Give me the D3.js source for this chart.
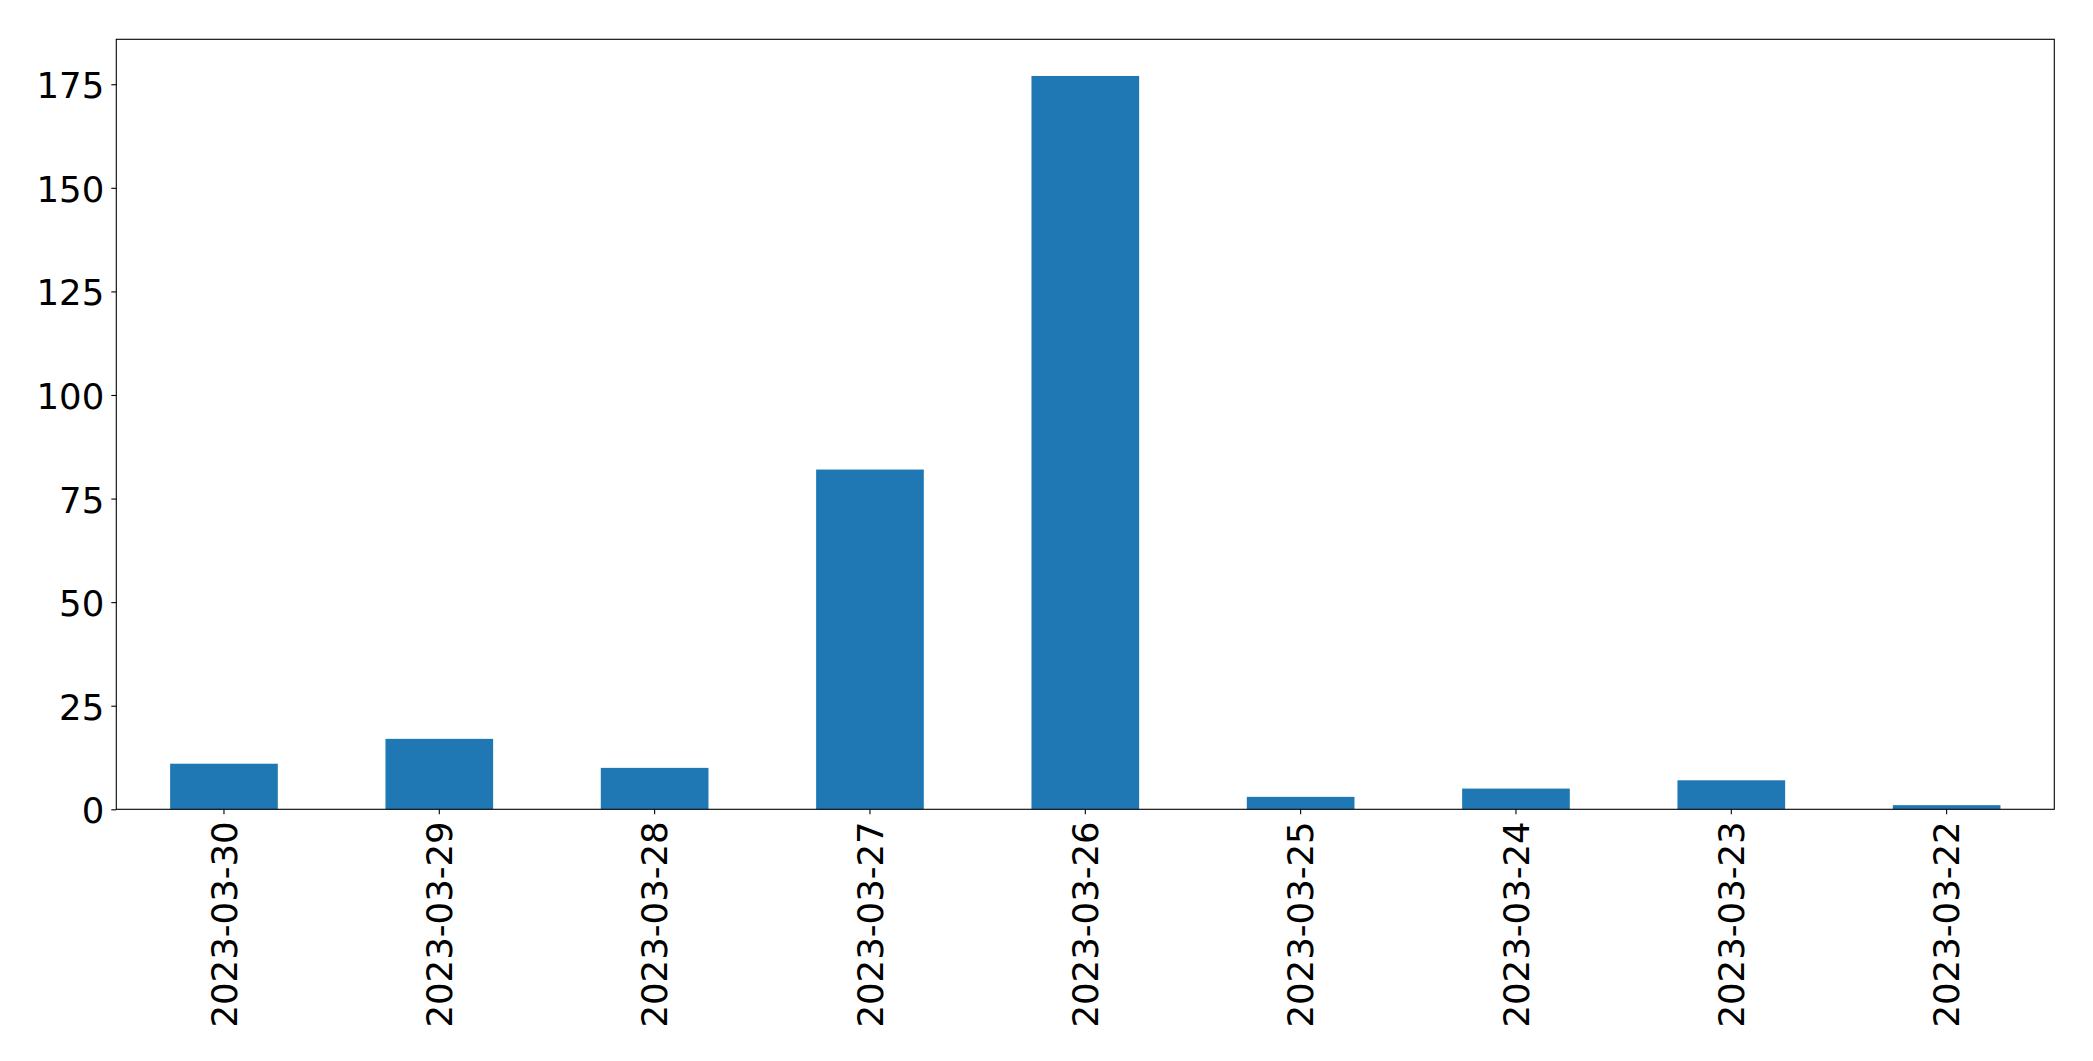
<!DOCTYPE html>
<html>
<head>
<meta charset="utf-8">
<script src="https://cdn.jsdelivr.net/npm/d3@7"></script>
<style>
  html, body { margin: 0; padding: 0; background: #ffffff; }
  svg { display: block; }
  text { font-family: "DejaVu Sans", sans-serif; fill: #000; }
</style>
</head>
<body>
<svg id="chart" width="2093" height="1061"></svg>
<script>
const categories = ["2023-03-30","2023-03-29","2023-03-28","2023-03-27","2023-03-26","2023-03-25","2023-03-24","2023-03-23","2023-03-22"];
const values = [11, 17, 10, 82, 177, 3, 5, 7, 1];
const yTicks = [0, 25, 50, 75, 100, 125, 150, 175];

const W = 2093, H = 1061;
const margin = { left: 116.3, right: W - 2054.3, top: 39.3, bottom: H - 809.3 };
const fontSize = 35.5;

const svg = d3.select("#chart");
const x = d3.scaleBand()
  .domain(categories)
  .range([margin.left, W - margin.right])
  .paddingInner(0.5)
  .paddingOuter(0.25);
const y = d3.scaleLinear()
  .domain([0, d3.max(values) * 1.05])
  .range([H - margin.bottom, margin.top]);

// bars
svg.append("g").selectAll("rect")
  .data(categories.map((c, i) => ({ c, v: values[i] })))
  .join("rect")
  .attr("x", d => x(d.c))
  .attr("width", x.bandwidth())
  .attr("y", d => y(d.v))
  .attr("height", d => y(0) - y(d.v))
  .attr("fill", "#1f77b4");

// y axis
const yAxis = svg.append("g")
  .attr("transform", `translate(${margin.left},0)`)
  .call(d3.axisLeft(y).tickValues(yTicks).tickSize(5).tickPadding(7).tickFormat(d3.format("d")));
yAxis.select(".domain").remove();
yAxis.selectAll(".tick line").attr("stroke", "#000").attr("stroke-width", 1.1);
yAxis.selectAll(".tick text").style("font-size", fontSize + "px").attr("dy", "0.38em");

// x axis
const xAxis = svg.append("g")
  .attr("transform", `translate(0,${H - margin.bottom})`)
  .call(d3.axisBottom(x).tickSize(5).tickPadding(0));
xAxis.select(".domain").remove();
xAxis.selectAll(".tick line").attr("stroke", "#000").attr("stroke-width", 1.1);
xAxis.selectAll(".tick text")
  .style("font-size", fontSize + "px")
  .attr("text-anchor", "end")
  .attr("transform", "translate(0,12) rotate(-90)")
  .attr("x", 0)
  .attr("y", 0)
  .attr("dy", "0.36em");

// frame
svg.append("rect")
  .attr("x", margin.left)
  .attr("y", margin.top)
  .attr("width", W - margin.left - margin.right)
  .attr("height", H - margin.top - margin.bottom)
  .attr("fill", "none")
  .attr("stroke", "#000")
  .attr("stroke-width", 1.1);
</script>
</body>
</html>
